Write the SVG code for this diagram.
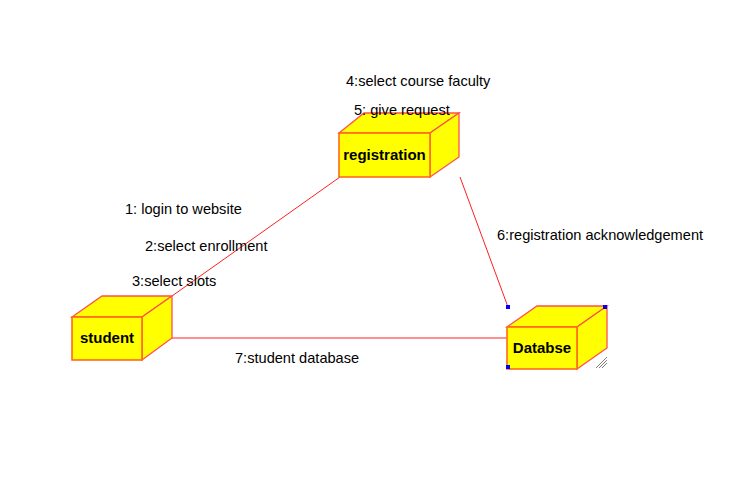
<svg xmlns="http://www.w3.org/2000/svg" width="753" height="499" viewBox="0 0 753 499">
<style>
.face{fill:#ffff00;stroke:#ff5050;stroke-width:1.3}
.front{fill:#ffff00;stroke:#ff6a1a;stroke-width:1.6}
.lbl{font-family:"Liberation Sans",Arial,sans-serif;font-size:14.6px;fill:#000}
.nm{font-family:"Liberation Sans",Arial,sans-serif;font-size:15px;font-weight:bold;fill:#000;text-anchor:middle}
.conn{stroke:#ff2020;stroke-width:1;fill:none}
.h{fill:#0000ff}
</style>
<rect width="753" height="499" fill="#fff"/>
<g id="connectors">
<line class="conn" x1="340" y1="177" x2="172" y2="296"/>
<line class="conn" x1="172" y1="338" x2="507" y2="338"/>
<line class="conn" x1="460" y1="177" x2="508" y2="307"/>
</g>
<g id="registration">
<polygon class="face" points="339,133 364,113 459,113 430,133"/>
<polygon class="face" points="430,133 459,113 459,157 430,177"/>
<rect class="front" x="339" y="133" width="91" height="44"/>
<text class="nm" x="384.5" y="160">registration</text>
</g>
<g id="student">
<polygon class="face" points="72,317 102,296 172,296 142,317"/>
<polygon class="face" points="142,317 172,296 172,338 142,360"/>
<rect class="front" x="72" y="317" width="70" height="43"/>
<text class="nm" x="107" y="343">student</text>
</g>
<g id="database">
<polygon class="face" points="507,327 537,306 607,306 577,327"/>
<polygon class="face" points="577,327 607,306 607,348 577,369"/>
<rect class="front" x="507" y="327" width="70" height="42"/>
<text class="nm" x="542" y="353">Databse</text>
<g stroke="#808080" stroke-width="1">
<line x1="596" y1="368" x2="607" y2="357"/>
<line x1="599" y1="368" x2="607" y2="360"/>
<line x1="602" y1="368" x2="607" y2="363"/>
</g>
<rect class="h" x="506" y="305" width="4" height="4"/>
<rect class="h" x="603" y="305" width="4" height="4"/>
<rect class="h" x="506" y="365" width="4" height="4"/>
</g>
<g id="labels">
<text class="lbl" x="346" y="86">4:select course faculty</text>
<text class="lbl" x="354" y="115">5: give request</text>
<text class="lbl" x="125" y="214">1: login to website</text>
<text class="lbl" x="145" y="251">2:select enrollment</text>
<text class="lbl" x="132" y="286">3:select slots</text>
<text class="lbl" x="497" y="240">6:registration acknowledgement</text>
<text class="lbl" x="235" y="363">7:student database</text>
</g>
</svg>
